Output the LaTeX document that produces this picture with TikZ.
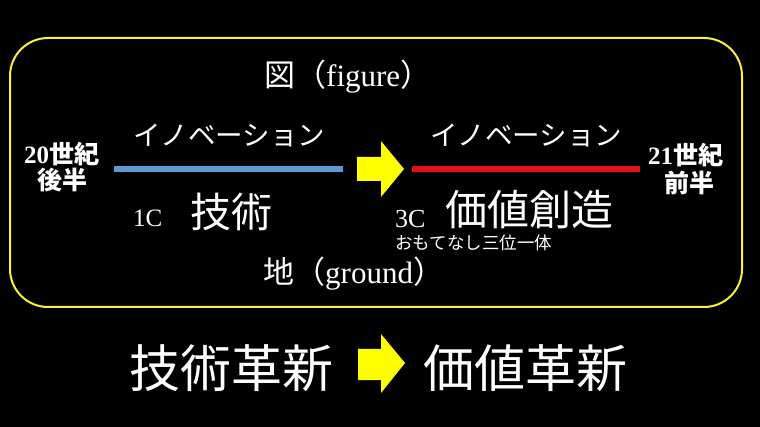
\documentclass[tikz,border=0pt]{standalone}
\usepackage{fontspec}
\setmainfont{Liberation Serif}
\newfontfamily\cjk{Noto Sans CJK JP}
\definecolor{frameyellow}{RGB}{250,240,60}
\definecolor{arrowyellow}{RGB}{255,255,0}
\definecolor{lineblue}{RGB}{91,155,213}
\definecolor{linered}{RGB}{228,16,24}
\newcommand\fsz[1]{\fontsize{#1}{#1}\selectfont}
\begin{document}
\begin{tikzpicture}[x=1pt,y=-1pt,
  txt/.style={text=white,inner sep=0pt,anchor=west},
  fatarrow/.style={fill=arrowyellow,draw=none},
  barline/.style={line width=6pt}]
\useasboundingbox (0,0) rectangle (760,427);
\fill[black] (0,0) rectangle (760,427);
\draw[frameyellow,line width=2pt,rounded corners=38pt] (10,38) rectangle (742,307);

\node[txt] (fig) at (264,77) {\fsz{31}{\cjk 図（}figure{\cjk ）}};
\node[txt] (gnd) at (263,274) {\fsz{31}{\cjk 地（}ground{\cjk ）}};

\node[txt] (inno1) at (133,136) {\fsz{27.5}\cjk イノベーション};
\node[txt] (inno2) at (430,136) {\fsz{27.5}\cjk イノベーション};

\coordinate (b1) at (114,169); \coordinate (b2) at (343,169);
\coordinate (r1) at (412,169); \coordinate (r2) at (640,169);
\draw[barline,lineblue] (b1) -- (b2);
\draw[barline,linered] (r1) -- (r2);

\fill[fatarrow] (357,157) -- (381,157) -- (381,141) -- (404,169) -- (381,197) -- (381,181) -- (357,181) -- cycle;

\node[txt] (c20a) at (24,154) {\fsz{25}\bfseries 20{\cjk 世紀}};
\node[text=white,inner sep=0pt] (c20b) at (62,180) {\fsz{25}\bfseries\cjk 後半};
\node[txt] (c21a) at (648,155) {\fsz{25}\bfseries 21{\cjk 世紀}};
\node[text=white,inner sep=0pt] (c21b) at (689,183) {\fsz{25}\bfseries\cjk 前半};

\node[txt] (oneC) at (133,218) {\fsz{25}1C};
\node[txt] (tech) at (190,212) {\fsz{41}\cjk 技術};
\node[txt] (threeC) at (395,219) {\fsz{26}3C};
\node[txt] (value) at (445,210) {\fsz{42}\cjk 価値創造};
\node[txt] (omote) at (395,243) {\fsz{17.5}\cjk おもてなし三位一体};

\node[txt] (techrev) at (129,368) {\fsz{51}\cjk 技術革新};
\fill[fatarrow] (358,349) -- (381,349) -- (381,334) -- (405,363) -- (381,393) -- (381,380) -- (358,380) -- cycle;
\node[txt] (valrev) at (423,368) {\fsz{51}\cjk 価値革新};
\end{tikzpicture}
\end{document}
